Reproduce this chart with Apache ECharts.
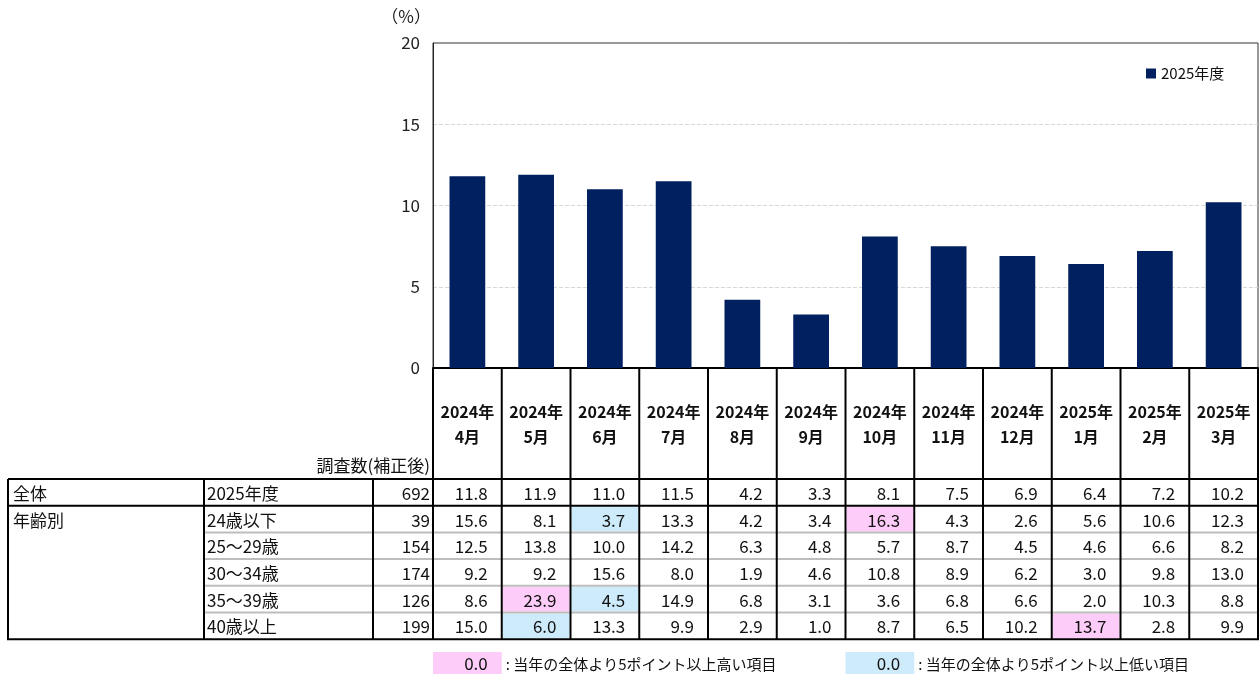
<!DOCTYPE html>
<html>
<head>
<meta charset="utf-8">
<script src="https://cdn.jsdelivr.net/npm/echarts@6/dist/echarts.min.js"></script>
<style>
html, body { margin: 0; padding: 0; background: #fff; }
#main { width: 1260px; height: 675px; }
</style>
</head>
<body>
<div id="main"></div>
<script>
// ---- data ----
var months = ['2024年\n4月', '2024年\n5月', '2024年\n6月', '2024年\n7月', '2024年\n8月', '2024年\n9月',
              '2024年\n10月', '2024年\n11月', '2024年\n12月', '2025年\n1月', '2025年\n2月', '2025年\n3月'];
var seriesName = '2025年度';
var overall = [11.8, 11.9, 11.0, 11.5, 4.2, 3.3, 8.1, 7.5, 6.9, 6.4, 7.2, 10.2];
var age24 = [15.6, 8.1, 3.7, 13.3, 4.2, 3.4, 16.3, 4.3, 2.6, 5.6, 10.6, 12.3];
var age25 = [12.5, 13.8, 10.0, 14.2, 6.3, 4.8, 5.7, 8.7, 4.5, 4.6, 6.6, 8.2];
var age30 = [9.2, 9.2, 15.6, 8.0, 1.9, 4.6, 10.8, 8.9, 6.2, 3.0, 9.8, 13.0];
var age35 = [8.6, 23.9, 4.5, 14.9, 6.8, 3.1, 3.6, 6.8, 6.6, 2.0, 10.3, 8.8];
var age40 = [15.0, 6.0, 13.3, 9.9, 2.9, 1.0, 8.7, 6.5, 10.2, 13.7, 2.8, 9.9];
var groupLabels = ['全体', '年齢別'];
var rowLabels = ['2025年度', '24歳以下', '25～29歳', '30～34歳', '35～39歳', '40歳以上'];
var sampleSizes = [692, 39, 154, 174, 126, 199];
var keyTexts = [': 当年の全体より5ポイント以上高い項目', ': 当年の全体より5ポイント以上低い項目'];

var FONT = '"Noto Sans CJK JP", sans-serif';
var PINK = '#fdccf8';
var BLUE = '#cdebfb';

var dom = document.getElementById('main');
var myChart = echarts.init(dom);

var option = {
    animation: false,
    textStyle: { fontFamily: FONT },
    grid: {
        left: 433, right: 2, top: 43, bottom: 307,
        show: true, borderColor: '#333', borderWidth: 1
    },
    legend: {
        left: 1141, top: 61,
        icon: 'rect', itemWidth: 10, itemHeight: 10, itemGap: 4,
        textStyle: { fontSize: 15, color: '#111', fontFamily: FONT },
        data: [seriesName]
    },
    xAxis: {
        type: 'category',
        data: months,
        axisLabel: { show: false },
        axisLine: { lineStyle: { color: '#000', width: 2 } },
        axisTick: { inside: true, length: 5, lineStyle: { color: '#666' } },
        splitLine: { show: false }
    },
    yAxis: {
        type: 'value',
        min: 0, max: 20, interval: 5,
        name: '（%）',
        nameLocation: 'end',
        nameGap: 18,
        nameTextStyle: { fontSize: 17, color: '#222', align: 'right', padding: [0, 2, 0, 0] },
        axisLine: { show: true, lineStyle: { color: '#222' } },
        axisTick: { show: false },
        axisLabel: { fontSize: 17, color: '#222', margin: 13 },
        splitLine: { showMaxLine: false, lineStyle: { type: 'dashed', color: '#d8d8d0' } }
    },
    series: [{
        name: seriesName,
        type: 'bar',
        data: overall,
        barWidth: '52%',
        itemStyle: { color: '#002060' }
    }]
};
myChart.setOption(option);

// ---- table under the chart, aligned to the category axis ----
var rows = [overall, age24, age25, age30, age35, age40];
var c0 = myChart.convertToPixel({ xAxisIndex: 0 }, 0);
var bandW = myChart.convertToPixel({ xAxisIndex: 0 }, 1) - c0;
function colLeft(i) { return myChart.convertToPixel({ xAxisIndex: 0 }, i) - bandW / 2; }
function colRight(i) { return myChart.convertToPixel({ xAxisIndex: 0 }, i) + bandW / 2; }

var axisY = 368, rowTop = 479, rowH = 26.7;
var tLeft = 8, tCol1 = 204, tCol2 = 373, tRight = colRight(months.length - 1);
var tBottom = rowTop + rowH * rows.length;
var g = [];

function txt(s, x, y, align, size, extra) {
    var st = { text: s, x: x, y: y, textAlign: align, align: align, textVerticalAlign: 'middle', verticalAlign: 'middle',
               fontSize: size, fontFamily: FONT, fill: '#111' };
    if (extra) for (var k in extra) st[k] = extra[k];
    g.push({ type: 'text', z: 20, style: st });
}
function line(x1, y1, x2, y2, color, w) {
    g.push({ type: 'line', z: 15, shape: { x1: x1, y1: y1, x2: x2, y2: y2 }, style: { stroke: color, lineWidth: w } });
}
function box(x, y, w, h, color) {
    g.push({ type: 'rect', z: 10, shape: { x: x, y: y, width: w, height: h }, style: { fill: color } });
}

// highlighted cells: 5 points above / below the overall value
for (var r = 1; r < rows.length; r++) {
    for (var i = 0; i < months.length; i++) {
        var d = Math.round((rows[r][i] - overall[i]) * 10) / 10;
        if (d >= 5 || d <= -5) {
            box(colLeft(i) + 1, rowTop + rowH * r + 1, bandW - 2, rowH - 2, d >= 5 ? PINK : BLUE);
        }
    }
}

// header: month labels
for (var i = 0; i < months.length; i++) {
    var cx = myChart.convertToPixel({ xAxisIndex: 0 }, i);
    txt(months[i], cx, 424, 'center', 16, { fontWeight: 'bold', lineHeight: 25 });
}
txt('調査数(補正後)', tCol2 + 57, 466, 'right', 17);

// body cells
for (var r = 0; r < rows.length; r++) {
    var cy = rowTop + rowH * r + rowH / 2 + 1;
    if (r < groupLabels.length) txt(groupLabels[r], tLeft + 5, cy, 'left', 17);
    txt(rowLabels[r], tCol1 + 3, cy, 'left', 17);
    txt(String(sampleSizes[r]), tCol2 + 57, cy, 'right', 17);
    for (var i = 0; i < months.length; i++) {
        txt(rows[r][i].toFixed(1), colRight(i) - 14, cy, 'right', 17);
    }
}

// grid lines of the table
for (var r = 2; r < rows.length; r++) {
    line(tCol1, rowTop + rowH * r, tRight, rowTop + rowH * r, '#bdbdbd', 2);
}
line(tLeft, rowTop, tRight, rowTop, '#000', 2);
line(tLeft, rowTop + rowH, tRight, rowTop + rowH, '#000', 2);
line(tLeft - 1, tBottom, tRight + 1, tBottom, '#000', 2);
[tLeft, tCol1, tCol2].forEach(function (x) { line(x, rowTop, x, tBottom, '#000', 2); });
for (var i = 0; i < months.length; i++) {
    line(colLeft(i), axisY, colLeft(i), tBottom, '#000', 2);
}
line(tRight, axisY, tRight, tBottom, '#000', 2);

// key below the table
[[0, PINK, keyTexts[0]], [6, BLUE, keyTexts[1]]].forEach(function (k) {
    var l = colLeft(k[0]), rgt = colRight(k[0]);
    box(l, 652, rgt - l, 22, k[1]);
    txt((0).toFixed(1), rgt - 14, 664, 'right', 17);
    txt(k[2], rgt + 4, 664, 'left', 15);
});

myChart.setOption({ graphic: { elements: g } });

window.addEventListener('resize', function () {
    myChart.resize();
});
</script>
</body>
</html>
